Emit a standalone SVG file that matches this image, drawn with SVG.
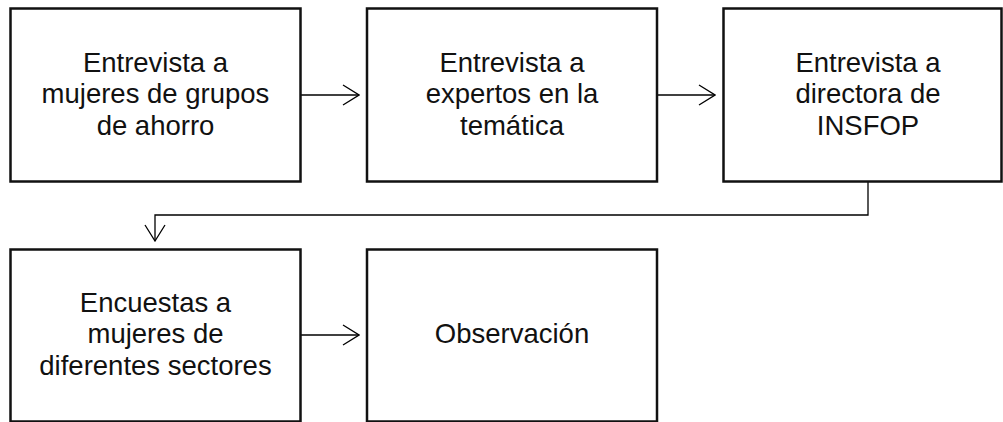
<svg xmlns="http://www.w3.org/2000/svg" width="1003" height="422" viewBox="0 0 1003 422">
<style>
.box{fill:#fff;stroke:#111;stroke-width:2.5}
.lbl{font-family:"Liberation Sans",Arial,sans-serif;font-size:27.5px;fill:#111;text-anchor:middle}
.con{fill:none;stroke:#000;stroke-width:1.3}
</style>
<defs>
<marker id="ah" viewBox="0 0 18 22" refX="17" refY="11" markerWidth="18" markerHeight="22" markerUnits="userSpaceOnUse" orient="auto">
<path d="M1,1 L17,11 L1,21" fill="none" stroke="#000" stroke-width="1.3"/>
</marker>
</defs>
<rect width="1003" height="422" fill="#fff"/>
<g id="connectors">
<line class="con" x1="301" y1="95" x2="359" y2="95" marker-end="url(#ah)"/>
<line class="con" x1="657" y1="95" x2="715" y2="95" marker-end="url(#ah)"/>
<path class="con" d="M868,182 V215 H155 V241" marker-end="url(#ah)"/>
<line class="con" x1="301" y1="335" x2="359" y2="335" marker-end="url(#ah)"/>
</g>
<g id="n1">
<rect class="box" x="10.5" y="8.5" width="290" height="173"/>
<text class="lbl" x="155.5" y="72">Entrevista a</text>
<text class="lbl" x="155.5" y="103">mujeres de grupos</text>
<text class="lbl" x="155.5" y="135">de ahorro</text>
</g>
<g id="n2">
<rect class="box" x="367" y="8.5" width="290" height="173"/>
<text class="lbl" x="512" y="72">Entrevista a</text>
<text class="lbl" x="512" y="103">expertos en la</text>
<text class="lbl" x="512" y="135">temática</text>
</g>
<g id="n3">
<rect class="box" x="723.5" y="8.5" width="278" height="173"/>
<text class="lbl" x="868" y="72">Entrevista a</text>
<text class="lbl" x="868" y="103">directora de</text>
<text class="lbl" x="868" y="135">INSFOP</text>
</g>
<g id="n4">
<rect class="box" x="10.5" y="249.5" width="290" height="172"/>
<text class="lbl" x="155.5" y="312">Encuestas a</text>
<text class="lbl" x="155.5" y="343">mujeres de</text>
<text class="lbl" x="155.5" y="375">diferentes sectores</text>
</g>
<g id="n5">
<rect class="box" x="367" y="249.5" width="290" height="172"/>
<text class="lbl" x="512" y="343">Observación</text>
</g>
</svg>
